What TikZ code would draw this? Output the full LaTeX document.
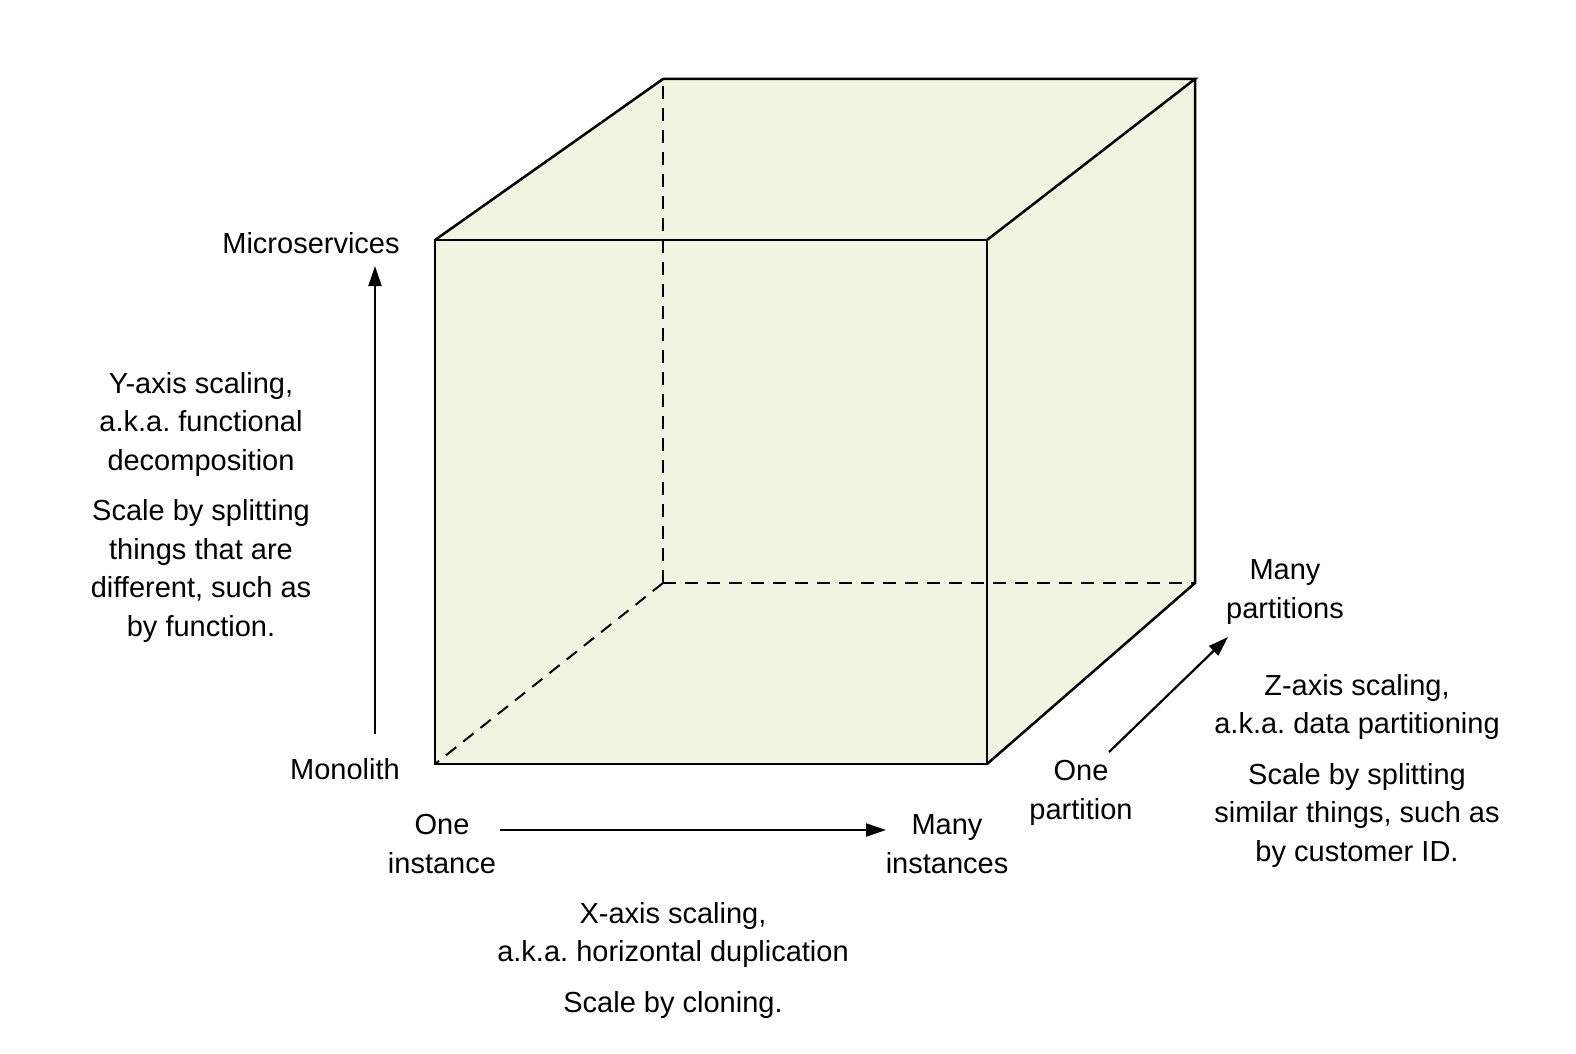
\documentclass[tikz,border=0pt]{standalone}
\usepackage{fontspec}
\setmainfont{Liberation Sans}
\usetikzlibrary{arrows.meta}
\definecolor{cubefill}{RGB}{241,244,225}
\frenchspacing
\tikzset{
  edge/.style={line width=2.5, line join=miter},
  hidden/.style={line width=2, dash pattern=on 13 off 9},
  axis/.style={line width=2.2, -{Triangle[length=20pt,width=13pt]}},
  lbl/.style={inner sep=0, align=center, font=\fontsize{29}{38.5}\selectfont}
}
\begin{document}
\begin{tikzpicture}[x=1pt,y=1pt,yscale=-1,xscale=1]
\useasboundingbox (0,0) rectangle (1576,1054);

%Cube corners
\coordinate (ftl) at (435,240);
\coordinate (ftr) at (987,240);
\coordinate (fbr) at (987,764);
\coordinate (fbl) at (435,764);
\coordinate (btl) at (663,79);
\coordinate (btr) at (1195,79);
\coordinate (bbr) at (1195,583);
\coordinate (bbl) at (663,583);

%Shape: Cube fill
\fill [cubefill] (fbl) -- (ftl) -- (btl) -- (btr) -- (bbr) -- (fbr) -- cycle ;
%Hidden edges
\draw [hidden] (bbl) -- (btl) ;
\draw [hidden] (bbl) -- (bbr) ;
\draw [hidden] (bbl) -- (fbl) ;
%Front face
\draw [edge] (ftl) -- (ftr) -- (fbr) -- (fbl) -- cycle ;
%Top and side
\draw [edge] (ftl) -- (btl) -- (btr) -- (ftr) ;
\draw [edge] (btr) -- (bbr) -- (fbr) ;

% Text Node
\node (micro) at (311,243) [lbl] {Microservices};
% Text Node
\node (mono) at (345,769) [lbl] {Monolith};
% Text Node
\node (ytitle) at (201,424) [lbl] {Y-axis scaling,\\a.k.a. functional\\decomposition};
% Text Node
\node (ydesc) at (201,571) [lbl] {Scale by splitting\\things that are\\different, such as\\by function.};
% Text Node
\node (oneinst) at (442,844) [lbl] {One\\instance};
% Text Node
\node (manyinst) at (947,844) [lbl] {Many\\instances};
% Text Node
\node (xtitle) at (673,935) [lbl] {X-axis scaling,\\a.k.a. horizontal duplication};
% Text Node
\node (xdesc) at (673,1005) [lbl] {Scale by cloning.};
% Text Node
\node (onepart) at (1081,793) [lbl] {One\\partition};
% Text Node
\node (manypart) at (1285,592) [lbl] {Many\\partitions};
% Text Node
\node (ztitle) at (1357,707) [lbl] {Z-axis scaling,\\a.k.a. data partitioning};
% Text Node
\node (zdesc) at (1357,815) [lbl] {Scale by splitting\\similar things, such as\\by customer ID.};

%Axis arrow ends
\coordinate (ystart) at (375,734);
\coordinate (yend) at (375,266);
\coordinate (xstart) at (500,830);
\coordinate (xend) at (886,830);
\coordinate (zstart) at (1109,752);
\coordinate (zend) at (1228,637);

%Straight Lines: axes
\draw [axis] (ystart) -- (yend) ;
\draw [axis] (xstart) -- (xend) ;
\draw [axis] (zstart) -- (zend) ;

\end{tikzpicture}
\end{document}
